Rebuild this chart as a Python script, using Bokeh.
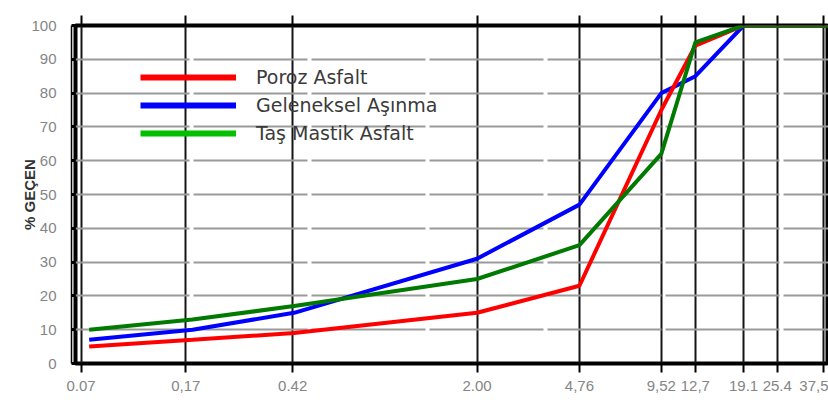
from bokeh.plotting import figure
from bokeh.models import (LinearAxis, LogAxis, FixedTicker, Range1d, Legend,
                          LegendItem, ColumnDataSource)
from bokeh.embed import file_html
from bokeh.resources import INLINE

# ---- data ----
sieve_mm = [0.075, 0.18, 0.425, 2.00, 4.76, 9.52, 12.7, 19.1, 25.4, 37.5, 50.0]
poroz_asfalt = [5, 7, 9, 15, 23, 75, 94, 100, 100, 100, 100]
geleneksel_asinma = [7, 10, 15, 31, 47, 80, 85, 100, 100, 100, 100]
tas_mastik_asfalt = [10, 13, 17, 25, 35, 62, 95, 100, 100, 100, 100]

series_names = ["Poroz Asfalt", "Geleneksel Aşınma", "Taş Mastik Asfalt"]

x_ticks = [0.07, 0.17, 0.42, 2.00, 4.76, 9.52, 12.7, 19.1, 25.4, 37.5]
x_tick_labels = ["0.07", "0,17", "0.42", "2.00", "4,76", "9,52", "12,7", "19.1", "25.4", "37,5"]
y_ticks = [0, 10, 20, 30, 40, 50, 60, 70, 80, 90, 100]
y_label = "% GEÇEN"

# ---- figure ----
p = figure(width=828, height=405, x_axis_type="log",
           x_range=Range1d(0.0668, 39.2), y_range=Range1d(0, 100),
           output_backend="svg", toolbar_location=None,
           y_axis_location=None,
           min_border_left=75, min_border_right=0,
           min_border_top=25, min_border_bottom=42)
p.background_fill_color = "white"
p.border_fill_color = "white"
p.outline_line_color = "black"
p.outline_line_width = 4

xt = FixedTicker(ticks=x_ticks)
yt = FixedTicker(ticks=y_ticks)
overrides = {t: lab for t, lab in zip(x_ticks, x_tick_labels)}
blank_x = {t: "" for t in x_ticks}
blank_y = {t: "" for t in y_ticks}

# grids
p.xgrid.ticker = xt
p.xgrid.grid_line_color = "#151515"
p.xgrid.grid_line_width = 2
p.ygrid.ticker = yt
p.ygrid.grid_line_color = "#9a9a9a"
p.ygrid.grid_line_width = 2
p.ygrid.grid_line_dash = "114 4"

# bottom axis
xa = p.xaxis[0]
xa.ticker = xt
xa.major_label_overrides = overrides
xa.axis_line_color = None
xa.major_tick_in = 0
xa.major_tick_out = 9
xa.major_tick_line_color = "black"
xa.major_tick_line_width = 2
xa.minor_tick_line_color = None
xa.major_label_standoff = 8
xa.major_label_text_font = "Liberation Sans"
xa.major_label_text_font_size = "15px"
xa.major_label_text_color = "#858585"

# top axis: only tick stubs above the frame
ta = LogAxis(ticker=xt, axis_line_color=None, major_tick_in=0, major_tick_out=10,
             major_tick_line_color="black", major_tick_line_width=2,
             minor_tick_line_color=None, major_label_overrides=blank_x,
             major_label_standoff=0)
p.add_layout(ta, "above")

# left axis A: tick stubs on the frame
la = LinearAxis(ticker=yt, axis_line_color=None, major_tick_in=0, major_tick_out=4,
                major_tick_line_color="black", major_tick_line_width=3,
                minor_tick_line_color=None, major_label_overrides=blank_y,
                major_label_standoff=9)
p.add_layout(la, "left")

# left axis B: thin line with labels
lb = LinearAxis(ticker=yt, axis_line_color="black", axis_line_width=1.5,
                major_tick_line_color=None, minor_tick_line_color=None,
                major_label_standoff=9, major_label_text_font="Liberation Sans",
                major_label_text_font_size="15px", major_label_text_color="#858585",
                axis_label=y_label, axis_label_standoff=-10,
                axis_label_text_font="Liberation Sans", axis_label_text_font_size="15px",
                axis_label_text_font_style="bold", axis_label_text_color="#333333")
p.add_layout(lb, "left")

# ---- curves ----
src = ColumnDataSource(dict(x=sieve_mm, red=poroz_asfalt, blue=geleneksel_asinma,
                            green=tas_mastik_asfalt))
p.line("x", "blue", source=src, line_color="#0000ff", line_width=4)
p.line("x", "red", source=src, line_color="#ff0000", line_width=4)
p.line("x", "green", source=src, line_color="#007a00", line_width=4)

# legend-only renderers (no visible data)
nan = float("nan")
leg_colors = ["#ff0000", "#0000ff", "#00c000"]
items = []
for name, c in zip(series_names, leg_colors):
    r = p.line(x=[nan], y=[nan], line_color=c, line_width=6)
    items.append(LegendItem(label=name, renderers=[r]))

legend = Legend(items=items, location=(65, 217), glyph_width=96, glyph_height=26,
                spacing=2, padding=0, margin=0, label_standoff=20,
                label_text_font="DejaVu Sans", label_text_font_size="19px",
                label_text_color="#3a3a3a", background_fill_alpha=0,
                border_line_color=None)
p.add_layout(legend, "center")

open("out.html", "w").write(file_html(p, INLINE))
